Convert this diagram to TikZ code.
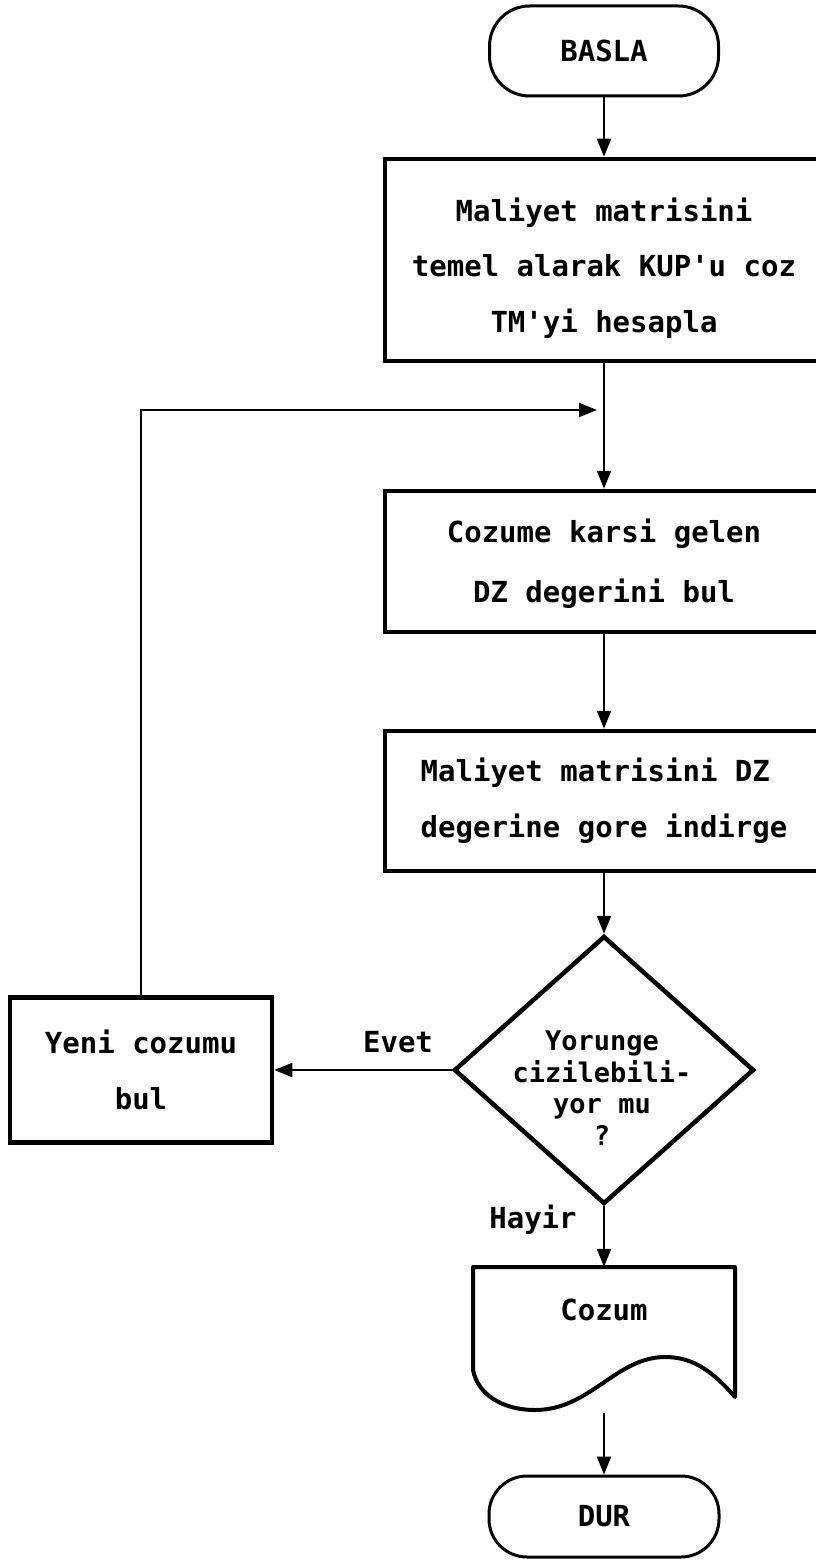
\documentclass[tikz,border=0pt]{standalone}
\usepackage{fontspec}
\newfontfamily\dmono{DejaVu Sans Mono}
\usetikzlibrary{arrows.meta,shapes.geometric}
\begin{document}
\begin{tikzpicture}[x=1pt,y=-1pt,
  every node/.style={font=\dmono\bfseries\fontsize{29}{56}\selectfont, inner sep=0pt, align=center},
  proc/.style={draw, line width=4.5pt, minimum width=438pt},
  term/.style={draw, line width=3pt, rounded corners=40pt, minimum width=229pt},
  conn/.style={line width=2pt},
  arr/.style={conn, -{Triangle[length=18pt,width=14pt]}},
  small/.style={font=\dmono\bfseries\fontsize{27}{31.5}\selectfont},
]
\useasboundingbox (0,0) rectangle (816,1560);
\clip (0,0) rectangle (816,1560);

\node[term, minimum height=90pt] (basla) at (604,51) {BASLA};

\node[proc, minimum height=202pt] (b1) at (604,260) {};
\node[font=\dmono\bfseries\fontsize{29}{55.5}\selectfont] (t1) at (604,268)
  {Maliyet matrisini\\temel alarak KUP'u coz\\TM'yi hesapla};

\node[proc, minimum height=141pt] (b2) at (604,561.5) {};
\node[font=\dmono\bfseries\fontsize{29}{60}\selectfont] (t2) at (604,564)
  {Cozume karsi gelen\\DZ degerini bul};

\node[proc, minimum height=140pt] (b3) at (604,801) {};
\node[align=left] (t3) at (604,801)
  {Maliyet matrisini DZ\\degerine gore indirge};

\node[diamond, draw, line width=4.5pt, minimum width=300pt, minimum height=268pt] (dec) at (604,1070) {};
\node[small] (dectxt) at (602,1088) {Yorunge\\cizilebili-\\yor mu\\?};

\node[proc, minimum width=262pt, minimum height=145pt] (yeni) at (141,1070) {Yeni cozumu\\bul};
\node (evet) at (398,1042) {Evet};
\node (hayir) at (533,1220) {Hayir};

% document shape (output)
\node[minimum width=262pt, minimum height=143pt] (doc) at (604,1338.5) {};
\draw[line width=4pt, line join=round]
  (473,1267) -- (735,1267) -- (735,1397)
  .. controls (710,1368) and (690,1357) .. (665,1357)
  .. controls (616,1357) and (590,1410) .. (535,1410)
  .. controls (503,1410) and (478,1395) .. (473,1370) -- cycle;
\node (cozum) at (604,1310) {Cozum};

\node[term, minimum width=230pt, minimum height=81pt, rounded corners=38pt] (dur) at (604,1516.5) {DUR};

\coordinate (join) at (597,410);

\draw[arr] (basla.south) -- (b1.north);
\draw[arr] (b1.south) -- (b2.north);
\draw[arr] (b2.south) -- (b3.north);
\draw[arr] (b3.south) -- (dec.north);
\draw[arr] (dec.west) -- (yeni.east);
\draw[arr] (yeni.north) |- (join);
\draw[arr] (dec.south) -- (doc.north);
\draw[arr, shorten <=3pt] (doc.south) -- (dur.north);
\end{tikzpicture}
\end{document}
